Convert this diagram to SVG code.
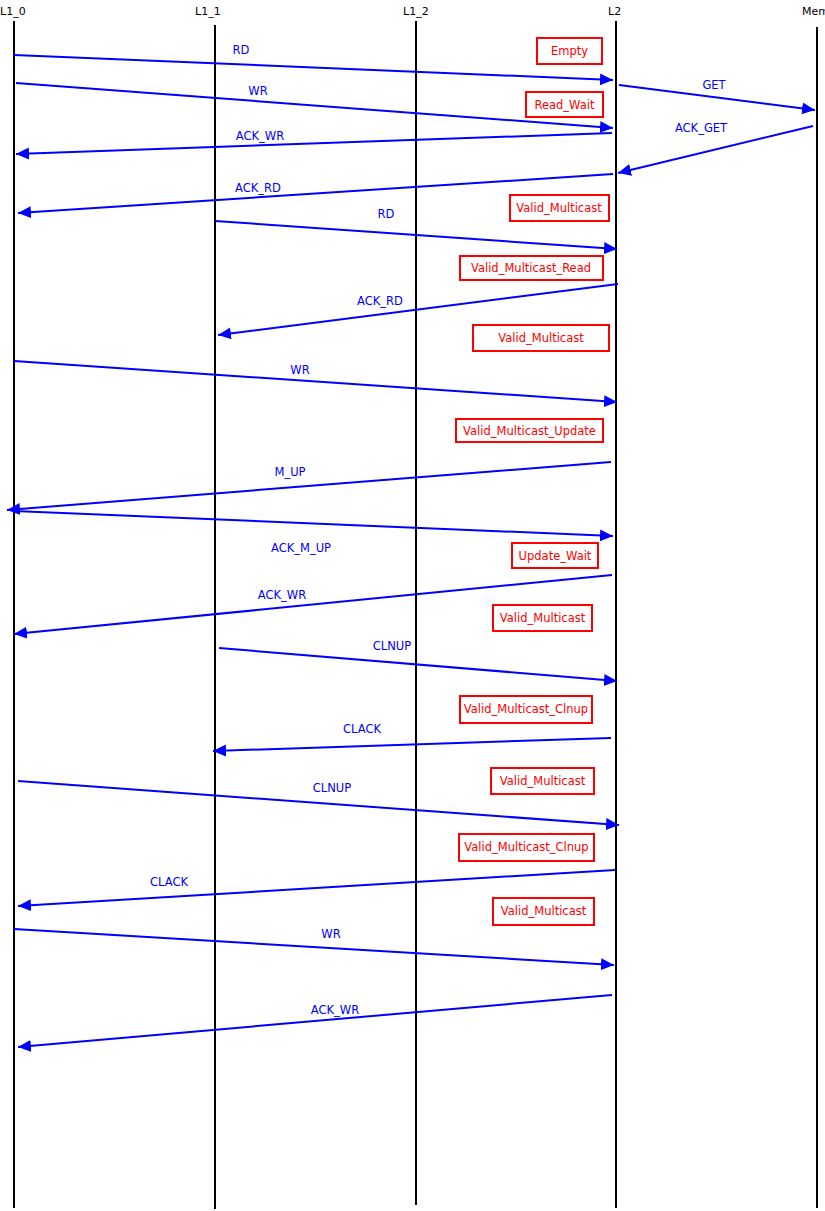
<svg xmlns="http://www.w3.org/2000/svg" width="825" height="1211" viewBox="0 0 825 1211">
<style>
.life{stroke:#000;stroke-width:2;fill:none}
.hdr{font-family:"DejaVu Sans",sans-serif;font-size:11px;fill:#000}
.msg{stroke:#0000ff;stroke-width:2;fill:none;marker-end:url(#ah)}
.ml{font-family:"DejaVu Sans",sans-serif;font-size:11.5px;fill:#0000ff;text-anchor:middle}
.st rect{fill:#fff;stroke:#ff0000;stroke-width:2}
.st text{font-family:"DejaVu Sans",sans-serif;font-size:11.5px;fill:#ff0000;text-anchor:middle}
</style>
<defs>
<marker id="ah" markerUnits="userSpaceOnUse" markerWidth="14" markerHeight="13" refX="13" refY="6" orient="auto">
<path d="M0,0 L13,6 L0,12 z" fill="#0000ff"/>
</marker>
</defs>
<rect width="825" height="1211" fill="#fff"/>
<g id="L1_0"><text class="hdr" x="0" y="15">L1_0</text><line class="life" x1="14" y1="21" x2="14" y2="1208"/></g>
<g id="L1_1"><text class="hdr" x="195" y="15">L1_1</text><line class="life" x1="215" y1="25" x2="215" y2="1209"/></g>
<g id="L1_2"><text class="hdr" x="403" y="15">L1_2</text><line class="life" x1="416" y1="21" x2="416" y2="1205"/></g>
<g id="L2"><text class="hdr" x="608" y="15">L2</text><line class="life" x1="616" y1="21" x2="616" y2="1208"/></g>
<g id="Mem"><text class="hdr" x="802" y="15">Mem</text><line class="life" x1="817" y1="27" x2="817" y2="1208"/></g>

<g id="states" class="st">
<g id="s1"><rect x="537" y="38" width="65" height="26"/><text x="569.5" y="55">Empty</text></g>
<g id="s2"><rect x="526" y="92" width="77" height="25"/><text x="564.5" y="109">Read_Wait</text></g>
<g id="s3"><rect x="510" y="195" width="99" height="26"/><text x="559" y="212">Valid_Multicast</text></g>
<g id="s4"><rect x="460" y="256" width="143" height="24"/><text x="531" y="272">Valid_Multicast_Read</text></g>
<g id="s5"><rect x="473" y="325" width="136" height="26"/><text x="541" y="342">Valid_Multicast</text></g>
<g id="s6"><rect x="456" y="419" width="147" height="23"/><text x="529.5" y="435">Valid_Multicast_Update</text></g>
<g id="s7"><rect x="512" y="543" width="86" height="25"/><text x="555" y="560">Update_Wait</text></g>
<g id="s8"><rect x="493" y="605" width="99" height="26"/><text x="542.5" y="622">Valid_Multicast</text></g>
<g id="s9"><rect x="460" y="696" width="132" height="27"/><text x="526" y="713">Valid_Multicast_Clnup</text></g>
<g id="s10"><rect x="491" y="768" width="103" height="26"/><text x="542.5" y="785">Valid_Multicast</text></g>
<g id="s11"><rect x="459" y="834" width="135" height="27"/><text x="526.5" y="851">Valid_Multicast_Clnup</text></g>
<g id="s12"><rect x="493" y="898" width="101" height="27"/><text x="543.5" y="915">Valid_Multicast</text></g>
</g>

<g id="connectors">
<line class="msg" x1="14" y1="55" x2="613" y2="80"/><text class="ml" x="241" y="54">RD</text>
<line class="msg" x1="16" y1="83" x2="613" y2="128"/><text class="ml" x="258" y="95">WR</text>
<line class="msg" x1="619" y1="85" x2="815" y2="110"/><text class="ml" x="714" y="89">GET</text>
<line class="msg" x1="813" y1="126" x2="618" y2="173"/><text class="ml" x="701" y="132">ACK_GET</text>
<line class="msg" x1="612" y1="133" x2="16" y2="154"/><text class="ml" x="260" y="140">ACK_WR</text>
<line class="msg" x1="613" y1="174" x2="18" y2="213"/><text class="ml" x="258" y="192">ACK_RD</text>
<line class="msg" x1="215" y1="221" x2="617" y2="249"/><text class="ml" x="386" y="218">RD</text>
<line class="msg" x1="618" y1="284" x2="218" y2="335"/><text class="ml" x="380" y="305">ACK_RD</text>
<line class="msg" x1="14" y1="361" x2="617" y2="402"/><text class="ml" x="300" y="374">WR</text>
<line class="msg" x1="611" y1="462" x2="7" y2="510"/><text class="ml" x="290" y="476">M_UP</text>
<line class="msg" x1="14" y1="511" x2="613" y2="536"/><text class="ml" x="301" y="552">ACK_M_UP</text>
<line class="msg" x1="612" y1="575" x2="14" y2="634"/><text class="ml" x="282" y="599">ACK_WR</text>
<line class="msg" x1="219" y1="648" x2="617" y2="681"/><text class="ml" x="392" y="650">CLNUP</text>
<line class="msg" x1="611" y1="738" x2="213" y2="751"/><text class="ml" x="362" y="733">CLACK</text>
<line class="msg" x1="18" y1="781" x2="619" y2="825"/><text class="ml" x="332" y="792">CLNUP</text>
<line class="msg" x1="615" y1="870" x2="18" y2="906"/><text class="ml" x="169" y="886">CLACK</text>
<line class="msg" x1="14" y1="929" x2="614" y2="965"/><text class="ml" x="331" y="938">WR</text>
<line class="msg" x1="612" y1="995" x2="18" y2="1047"/><text class="ml" x="335" y="1014">ACK_WR</text>
</g>
</svg>
